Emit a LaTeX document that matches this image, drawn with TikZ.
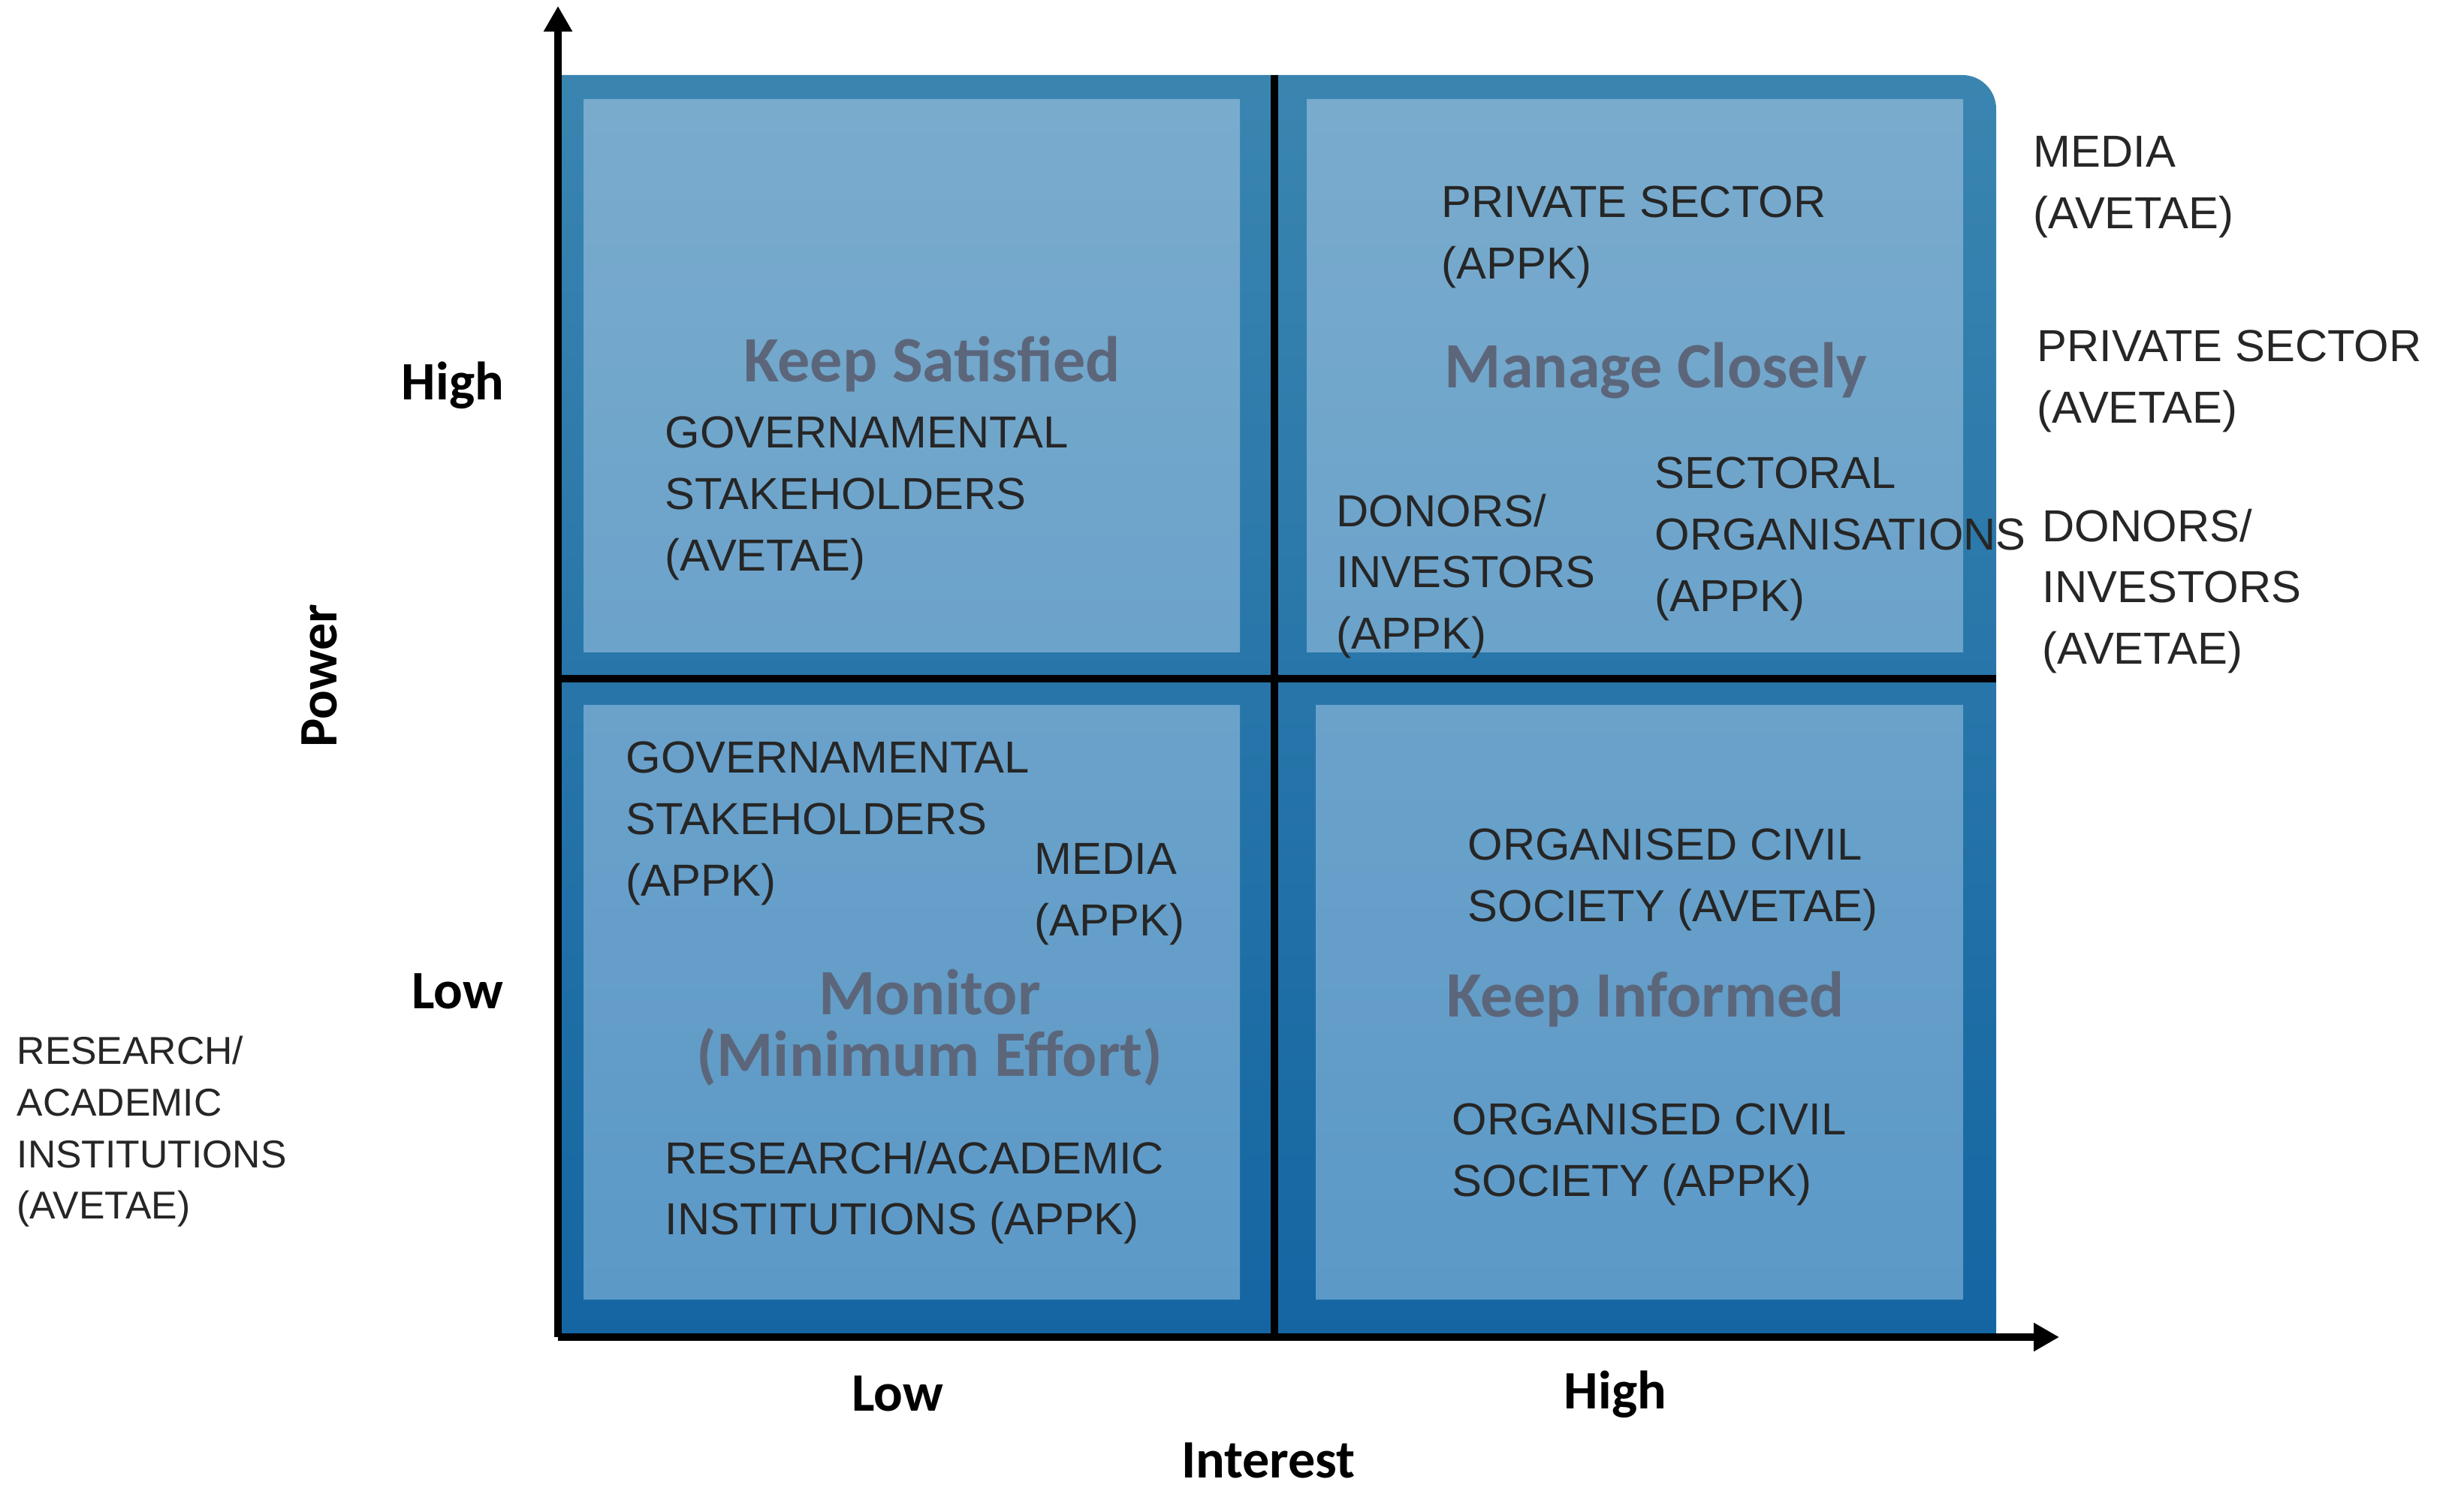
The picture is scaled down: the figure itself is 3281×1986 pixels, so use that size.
\documentclass[tikz,border=0pt]{standalone}
\usepackage{fontspec}
\setmainfont{Liberation Sans}
\newfontfamily\calib{Carlito}
\usetikzlibrary{arrows.meta}

\definecolor{frametop}{RGB}{58,133,176}
\definecolor{framebot}{RGB}{20,101,162}
\definecolor{paneltop}{RGB}{121,171,205}
\definecolor{panelbot}{RGB}{92,153,199}
\definecolor{stakegray}{RGB}{38,38,38}
\definecolor{titlegray}{RGB}{92,102,122}

\tikzset{
	stake/.style = {anchor=north west, inner sep=0pt, align=left,
		text=stakegray, font=\fontsize{17}{23.3}\selectfont},
	stakesmall/.style = {stake, font=\fontsize{14.7}{19.6}\selectfont},
	quadtitle/.style = {inner sep=0pt, align=center, text=titlegray,
		font=\calib\bfseries\fontsize{24.5}{26}\selectfont},
	axislabel/.style = {inner sep=0pt, font=\calib\bfseries\fontsize{20.5}{24}\selectfont},
	axisline/.style = {line width=2.8pt, -{Triangle[length=0.34cm,width=0.36cm]}},
	divider/.style = {line width=2.8pt, black}
}

\begin{document}
\begin{tikzpicture}[x=0.01cm, y=-0.01cm]
	\useasboundingbox (0,0) rectangle (3281,1986);

	% frame and panels
	\shade[top color=frametop, bottom color=framebot]
		(745,1781) -- (745,100) -- (2613,100)
		arc[start angle=-90, end angle=0, radius=45] -- (2658,1781) -- cycle;
	\shade[top color=paneltop, bottom color=panelbot]
		(777,132) rectangle (1651,869)
		(1740,132) rectangle (2614,869)
		(777,939) rectangle (1651,1731)
		(1752,939) rectangle (2614,1731);
	\draw[divider] (745,904) -- (2658,904);
	\draw[divider] (1697,100) -- (1697,1781);

	% axes
	\coordinate (origin) at (743,1781);
	\coordinate (ytop) at (743,8);
	\coordinate (xend) at (2742,1781);
	\draw[axisline] (origin) -- (ytop);
	\draw[axisline] (origin) -- (xend);

	\node[axislabel] (powhigh) at (603,513) {High};
	\node[axislabel] (powlow) at (609,1320) {Low};
	\node[axislabel, rotate=90] (power) at (425,900) {Power};
	\node[axislabel] (intlow) at (1195,1856) {Low};
	\node[axislabel] (inthigh) at (2151,1857) {High};
	\node[axislabel] (interest) at (1689,1945) {Interest};

	% quadrant titles
	\node[quadtitle] (satisfied) at (1241,485) {Keep Satisfied};
	\node[quadtitle] (closely) at (2205,494) {Manage Closely};
	\node[quadtitle] (monitor) at (1238,1322) {Monitor};
	\node[quadtitle] (effort) at (1238,1408) {(Minimum Effort)};
	\node[quadtitle] (informed) at (2191,1331) {Keep Informed};

	% stakeholders
	\node[stake] (tlgov) at (885,554) {GOVERNAMENTAL\\STAKEHOLDERS\\(AVETAE)};
	\node[stake] (trpriv) at (1919,247) {PRIVATE SECTOR\\(APPK)};
	\node[stake] (trdon) at (1779,657) {DONORS/\\INVESTORS\\(APPK)};
	\node[stake] (trsect) at (2203,608) {SECTORAL\\ORGANISATIONS\\(APPK)};
	\node[stake] (blgov) at (833,987) {GOVERNAMENTAL\\STAKEHOLDERS\\(APPK)};
	\node[stake] (blmedia) at (1377,1123) {MEDIA\\(APPK)};
	\node[stake] (blres) at (885,1519) {RESEARCH/ACADEMIC\\INSTITUTIONS (APPK)};
	\node[stake] (brcivav) at (1954,1103) {ORGANISED CIVIL\\SOCIETY (AVETAE)};
	\node[stake] (brcivap) at (1933,1469) {ORGANISED CIVIL\\SOCIETY (APPK)};
	\node[stake] (outmedia) at (2707,181) {MEDIA\\(AVETAE)};
	\node[stake] (outpriv) at (2712,439) {PRIVATE SECTOR\\(AVETAE)};
	\node[stake] (outdon) at (2719,677) {DONORS/\\INVESTORS\\(AVETAE)};
	\node[stakesmall] (outres) at (22,1379) {RESEARCH/\\ACADEMIC\\INSTITUTIONS\\(AVETAE)};
\end{tikzpicture}
\end{document}
